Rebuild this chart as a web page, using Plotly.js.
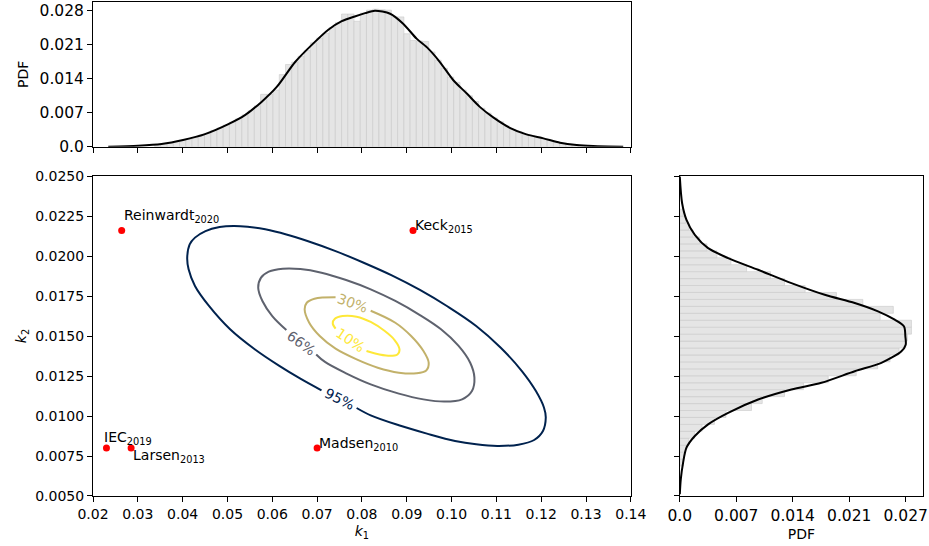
<!DOCTYPE html>
<html><head><meta charset="utf-8">
<script src="https://cdn.plot.ly/plotly-3.0.1.min.js"></script>
<style>html,body{margin:0;padding:0;background:#fff}#chart{width:929px;height:546px}</style>
</head><body><div id="chart"></div>
<script>
// ---------- data ----------
// top marginal (k1) histogram: first bin centre, bin width, heights
const k1BinStart = 0.034455;
const k1BinWidth = 0.00139;
const k1Hist = [0.0005,0.0006,0.0008,0.0010,0.0013,0.0016,0.0019,0.0024,0.0028,0.0034,
  0.0039,0.0045,0.0051,0.0058,0.0066,0.0075,0.0085,0.0109,0.0109,0.0118,
  0.0150,0.0171,0.0176,0.0188,0.0200,0.0216,0.0226,0.0236,0.0248,0.0258,
  0.0276,0.0276,0.0261,0.0278,0.0284,0.0286,0.0285,0.0284,0.0270,0.0270,
  0.0235,0.0221,0.0220,0.0219,0.0197,0.0180,0.0163,0.0145,0.0134,0.0118,
  0.0106,0.0094,0.0080,0.0070,0.0060,0.0052,0.0043,0.0036,0.0031,0.0026,
  0.0023,0.0020,0.0017,0.0013,0.0010,0.0007,0.0005,0.0004,0.0003,0.0002];
// top marginal KDE
const k1KdeX = [0.0234,0.0301,0.0353,0.0401,0.0450,0.0502,0.0539,0.0576,0.0610,0.0651,0.0691,0.0725,0.0755,0.0784,0.0807,0.0829,0.0863,0.0892,0.0922,0.0948,0.0974,0.1004,0.1034,0.1063,0.1093,0.1130,0.1167,0.1205,0.1242,0.1279,0.1316,0.1383];
const k1KdeY = [0.0000,0.0002,0.00056,0.0014,0.00263,0.0047,0.00657,0.00933,0.01244,0.01762,0.02144,0.02434,0.02612,0.0271,0.02778,0.0283,0.02766,0.02559,0.02248,0.0204,0.01762,0.01383,0.01107,0.00829,0.0061,0.00394,0.00257,0.00174,0.00083,0.00035,0.00015,0.0];

// right marginal (k2) histogram
const k2BinStart = 0.007089;
const k2BinWidth = 0.000434;
const k2Hist = [0.0004,0.0005,0.0007,0.0011,0.0018,0.0027,0.0042,0.0056,0.0087,0.0100,
  0.0127,0.0150,0.0180,0.0214,0.0240,0.0255,0.0266,0.0274,0.0276,0.0281,
  0.0281,0.0243,0.0259,0.0222,0.0190,0.0152,0.0127,0.0110,0.0081,0.0062,
  0.0045,0.0033,0.0024,0.0016,0.0011,0.0007,0.0004];
// right marginal KDE
const k2KdePos = [0.00511,0.00605,0.00709,0.00802,0.00875,0.00948,0.0102,0.01103,0.01166,0.01208,0.0128,0.01332,0.01405,0.01446,0.01498,0.0156,0.01602,0.01654,0.01706,0.01758,0.01831,0.01914,0.01987,0.02049,0.02132,0.02226,0.0233,0.02496];
const k2KdeVal = [0,0.00012,0.0004,0.00081,0.00182,0.00343,0.00586,0.0095,0.01354,0.01718,0.02122,0.02445,0.02688,0.0274,0.02736,0.0272,0.02607,0.02404,0.02122,0.01758,0.01354,0.0095,0.00586,0.00343,0.00182,0.00081,0.00028,0];

// contour lines, with gaps where labels sit
const c95k1 = [0.07882,0.08196,0.08824,0.09451,0.10078,0.10549,0.11020,0.11490,0.11843,0.12039,0.12102,0.12063,0.11882,0.11569,0.11098,0.10549,0.09922,0.09294,0.08667,0.08039,0.07412,0.06784,0.06314,0.05843,0.05451,0.05137,0.04824,0.04510,0.04275,0.04157,0.04102,0.04133,0.04275,0.04588,0.05059,0.05608,0.06157,0.06627,0.07098];
const c95k2 = [0.01050,0.01004,0.00942,0.00890,0.00844,0.00823,0.00813,0.00821,0.00850,0.00906,0.00990,0.01052,0.01156,0.01281,0.01427,0.01563,0.01683,0.01788,0.01879,0.01958,0.02031,0.02094,0.02135,0.02167,0.02183,0.02188,0.02181,0.02156,0.02115,0.02073,0.01990,0.01917,0.01813,0.01688,0.01542,0.01417,0.01313,0.01233,0.01160];
const c66k1 = [0.06980,0.07176,0.07647,0.08196,0.08824,0.09373,0.09843,0.10235,0.10455,0.10510,0.10416,0.10157,0.09765,0.09294,0.08745,0.08196,0.07647,0.07098,0.06627,0.06235,0.05922,0.05749,0.05686,0.05780,0.06000,0.06314];
const c66k2 = [0.01385,0.01338,0.01267,0.01198,0.01140,0.01104,0.01090,0.01104,0.01156,0.01240,0.01333,0.01438,0.01542,0.01631,0.01719,0.01792,0.01850,0.01896,0.01919,0.01921,0.01902,0.01865,0.01802,0.01719,0.01625,0.01538];
const c30k1 = [0.08196,0.08745,0.09098,0.09373,0.09490,0.09435,0.09216,0.08824,0.08353,0.07882,0.07412,0.07059,0.06824,0.06722,0.06769,0.06941,0.07412];
const c30k2 = [0.01658,0.01583,0.01500,0.01406,0.01333,0.01285,0.01267,0.01271,0.01302,0.01354,0.01421,0.01500,0.01583,0.01667,0.01708,0.01733,0.01742];
const c10k1 = [0.08102,0.08275,0.08588,0.08792,0.08839,0.08729,0.08510,0.08196,0.07882,0.07569,0.07396,0.07349,0.07412];
const c10k2 = [0.01406,0.01392,0.01377,0.01385,0.01417,0.01475,0.01531,0.01588,0.01621,0.01625,0.01608,0.01579,0.01546];
const contourLabels = ['95%','66%','30%','10%'];
const labelK1 = [0.07506,0.06651,0.07788,0.07741];
const labelK2 = [0.01104,0.01458,0.01704,0.01475];

// reference models
const refNames = ['Reinwardt','Keck','IEC','Larsen','Madsen'];
const refYears = ['2020','2015','2019','2013','2010'];
const refK1 = [0.0264,0.0914,0.0230,0.0285,0.0700];
const refK2 = [0.0216,0.0216,0.0080,0.0080,0.0080];

// tick labels
const mainXTicks = [0.02,0.03,0.04,0.05,0.06,0.07,0.08,0.09,0.10,0.11,0.12,0.13,0.14];
const mainYTicks = [0.005,0.0075,0.01,0.0125,0.015,0.0175,0.02,0.0225,0.025];
const topPdfTickVals = [0,0.007075,0.01415,0.021225,0.0283];
const topPdfTickText = ['0.0','0.007','0.014','0.021','0.028'];
const rightPdfTickVals = [0,0.00685,0.0137,0.02055,0.0274];
const rightPdfTickText = ['0.0','0.007','0.014','0.021','0.027'];

// ---------- styles ----------
const FONT = 'DejaVu Sans, sans-serif';
const lineColors = ['#00224e','#5e626e','#c2b16a','#fee838'];
const labelAngles = [26,36,20,34];
// pixel offsets for reference labels (style only)
const refXShift = [0,0,-4,0,0];
const refYShift = [3,-7,-1,-19,-7];

const contours = [[c95k1,c95k2],[c66k1,c66k2],[c30k1,c30k2],[c10k1,c10k2]];

const traces = [];
traces.push({type:'bar', x0:k1BinStart, dx:k1BinWidth, y:k1Hist, xaxis:'x2', yaxis:'y2',
  marker:{color:'#e5e5e5', line:{color:'#cacaca', width:0.6}}, hoverinfo:'skip', showlegend:false});
traces.push({type:'scatter', mode:'lines', x:k1KdeX, y:k1KdeY, xaxis:'x2', yaxis:'y2',
  line:{color:'#000', width:2, shape:'spline', smoothing:0.8}, showlegend:false});
traces.push({type:'bar', orientation:'h', y0:k2BinStart, dy:k2BinWidth, x:k2Hist, xaxis:'x3', yaxis:'y3',
  marker:{color:'#e5e5e5', line:{color:'#cacaca', width:0.6}}, hoverinfo:'skip', showlegend:false});
traces.push({type:'scatter', mode:'lines', x:k2KdeVal, y:k2KdePos, xaxis:'x3', yaxis:'y3',
  line:{color:'#000', width:2, shape:'spline', smoothing:0.8}, showlegend:false});
contours.forEach((c,i)=>{
  traces.push({type:'scatter', mode:'lines', x:c[0], y:c[1], xaxis:'x', yaxis:'y',
    line:{color:lineColors[i], width:2, shape:'spline', smoothing:1}, name:contourLabels[i], showlegend:false});
});
traces.push({type:'scatter', mode:'markers', x:refK1, y:refK2, xaxis:'x', yaxis:'y',
  marker:{color:'#ff0000', size:7}, showlegend:false});

const annotations = [];
contourLabels.forEach((t,i)=>{
  annotations.push({x:labelK1[i], y:labelK2[i], xref:'x', yref:'y', text:t, showarrow:false,
    textangle:labelAngles[i], font:{family:FONT, size:14, color:lineColors[i]}});
});
refNames.forEach((n,i)=>{
  annotations.push({x:refK1[i], y:refK2[i], xref:'x', yref:'y', text:n+'<sub>'+refYears[i]+'</sub>',
    showarrow:false, xanchor:'left', yanchor:'bottom', xshift:refXShift[i], yshift:refYShift[i],
    font:{family:FONT, size:14, color:'#000'}});
});

const axBase = {showline:true, mirror:true, linecolor:'#000', linewidth:1, ticks:'outside', ticklen:5,
  tickwidth:1, tickcolor:'#000', showgrid:false, zeroline:false, automargin:false,
  tickfont:{family:FONT, size:14, color:'#000'}};

const layout = {
  width:929, height:546,
  margin:{l:93, r:5.7, t:1.7, b:49.5},
  paper_bgcolor:'#fff', plot_bgcolor:'#fff',
  bargap:0, showlegend:false,
  font:{family:FONT, color:'#000'},
  xaxis:Object.assign({}, axBase, {domain:[0,0.648], anchor:'y', range:[0.02,0.14],
    tickvals:mainXTicks, tickformat:'.2f',
    title:{text:'<i>k</i><sub>1</sub>', font:{family:FONT, size:14, color:'#000'}, standoff:5}}),
  yaxis:Object.assign({}, axBase, {domain:[0,0.6477], anchor:'x', range:[0.005,0.025],
    tickvals:mainYTicks, tickformat:'.4f',
    title:{text:'<i>k</i><sub>2</sub>', font:{family:FONT, size:14, color:'#000'}, standoff:5}}),
  xaxis2:Object.assign({}, axBase, {domain:[0,0.648], anchor:'y2', range:[0.02,0.14],
    tickvals:mainXTicks, showticklabels:false}),
  yaxis2:Object.assign({}, axBase, {domain:[0.707,1], anchor:'x2', range:[0,0.0301],
    tickvals:topPdfTickVals, ticktext:topPdfTickText, tickfont:{family:FONT, size:15.5, color:'#000'},
    title:{text:'PDF', font:{family:FONT, size:14, color:'#000'}, standoff:7}}),
  xaxis3:Object.assign({}, axBase, {domain:[0.707,1], anchor:'y3', range:[0,0.0295],
    tickvals:rightPdfTickVals, ticktext:rightPdfTickText, tickfont:{family:FONT, size:15.5, color:'#000'},
    title:{text:'PDF', font:{family:FONT, size:14, color:'#000'}, standoff:5}}),
  yaxis3:Object.assign({}, axBase, {domain:[0,0.6477], anchor:'x3', range:[0.005,0.025],
    tickvals:mainYTicks, showticklabels:false}),
  annotations:annotations
};

Plotly.newPlot('chart', traces, layout, {displayModeBar:false, staticPlot:true});
</script></body></html>
